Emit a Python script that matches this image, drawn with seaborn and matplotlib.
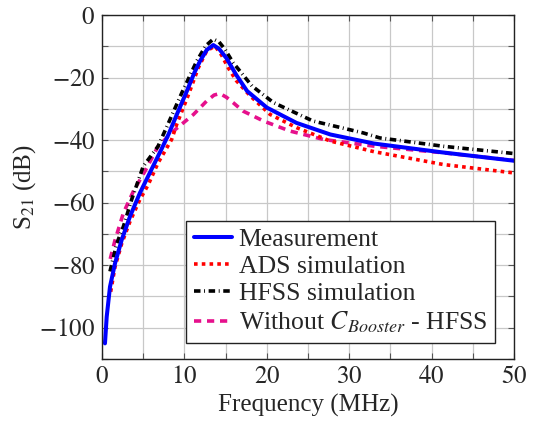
import numpy as np
import pandas as pd
import matplotlib
matplotlib.use("Agg")
import matplotlib.pyplot as plt
import seaborn as sns
from matplotlib.ticker import MultipleLocator

# ---- data ----
meas_f = [0.36, 0.57, 0.97, 1.58, 2.39, 3.4, 4.6, 6.0, 7.2, 8.1, 9.0, 10.3, 11.2, 11.9, 12.7, 13.5, 14.2, 15.1, 16.3, 17.6, 20.0, 23.6, 27.7, 33.0, 41.2, 50.0]
meas_db = [-105, -96.5, -86.9, -79.4, -71.9, -64.4, -56.9, -49.4, -43.0, -38.0, -32.3, -24.3, -18.5, -14.7, -11.2, -9.6, -10.8, -13.8, -19.2, -24.3, -29.6, -34.5, -38.2, -41.1, -43.9, -46.6]

ads_f = [1.05, 1.58, 2.4, 3.4, 4.6, 5.6, 6.8, 8.45, 9.06, 10.5, 11.7, 12.7, 13.7, 14.5, 15.3, 16.3, 18.0, 20.4, 23.6, 27.7, 33.0, 41.4, 50.0]
ads_db = [-88.5, -80.5, -73.0, -66.0, -59.0, -54.3, -47.3, -39.8, -35.0, -25.4, -16.8, -11.5, -9.9, -12.8, -16.8, -21.0, -25.9, -31.8, -36.0, -40.3, -43.7, -47.8, -50.5]

hfss_f = [0.97, 1.8, 2.6, 3.6, 5.0, 6.8, 7.9, 9.7, 11.5, 12.6, 13.5, 14.2, 14.9, 15.9, 18.2, 20.8, 25.6, 31.7, 33.7, 41.5, 50.0]
hfss_db = [-82.0, -73.0, -67.6, -59.0, -48.4, -42.0, -35.5, -24.8, -14.7, -9.8, -7.7, -8.6, -10.9, -15.2, -22.7, -28.0, -33.9, -37.7, -39.3, -42.0, -44.3]

noboost_f = [1.0, 1.58, 2.6, 3.8, 5.2, 6.8, 8.9, 11.1, 12.7, 13.6, 14.3, 15.1, 15.9, 17.1, 19.6, 22.8, 26.9, 33.2, 41.2, 50.0]
noboost_db = [-78.0, -72.0, -63.3, -56.4, -50.0, -42.0, -36.6, -31.8, -27.5, -25.6, -25.1, -26.3, -28.0, -30.7, -33.9, -37.1, -39.8, -42.0, -44.0, -46.5]

labels = ["Measurement", "ADS simulation", "HFSS simulation", r"Without $C_{Booster}$ - HFSS"]

x_ticks = [0, 10, 20, 30, 40, 50]
y_ticks = [0, -20, -40, -60, -80, -100]

frames = []
for lab, f, d in zip(labels, [meas_f, ads_f, hfss_f, noboost_f], [meas_db, ads_db, hfss_db, noboost_db]):
    frames.append(pd.DataFrame({"f": f, "db": d, "series": lab}))
df = pd.concat(frames, ignore_index=True)

sns.set_theme(style="white")
plt.rcParams["font.family"] = ["Liberation Serif", "DejaVu Serif"]
plt.rcParams["mathtext.fontset"] = "stix"

FS = 18

fig = plt.figure(figsize=(5.44, 4.23), dpi=100)
ax = fig.add_axes([0.1875, 0.1513, 0.7575, 0.8132])

lw = 2.6
styles = {
    labels[0]: dict(color="#0000ff", linestyle="-", linewidth=lw + 0.3),
    labels[1]: dict(color="#ff0000", linestyle=(0, (1.0, 1.15)), linewidth=lw),
    labels[2]: dict(color="#000000", linestyle=(0, (1.8, 1.0, 0.25, 1.0)), linewidth=lw),
    labels[3]: dict(color="#e6108c", linestyle=(0, (2.0, 1.6)), linewidth=lw),
}
order = [labels[3], labels[1], labels[2], labels[0]]
handles = {}
for lab in order:
    sub = df[df["series"] == lab]
    sns.lineplot(data=sub, x="f", y="db", ax=ax, label=lab, sort=False,
                 estimator=None, **styles[lab])
    handles[lab] = ax.get_lines()[-1]

ax.set_xlim(0, 50)
ax.set_ylim(-110, 0)
ax.set_xticks(x_ticks)
ax.set_xticklabels(["$%d$" % v for v in x_ticks])
ax.set_yticks(y_ticks)
ax.set_yticklabels(["$0$" if v == 0 else "$-%d$" % abs(v) for v in y_ticks])
ax.xaxis.set_minor_locator(MultipleLocator(5))
ax.yaxis.set_minor_locator(MultipleLocator(10))
ax.grid(True, which="both", color="#c8c8c8", linewidth=0.9)
ax.set_axisbelow(True)
ax.tick_params(which="both", direction="in", top=True, right=True, bottom=True, left=True,
               length=4, width=0.8, color="#555555", labelsize=FS)
ax.tick_params(axis="y", pad=5)
ax.tick_params(axis="x", pad=5)
for s in ax.spines.values():
    s.set_color("#222222")
    s.set_linewidth(1.0)

ax.set_xlabel("Frequency (MHz)", fontsize=FS, labelpad=4)
ax.set_ylabel(r"S$_{21}$ (dB)", fontsize=FS)
ax.yaxis.set_label_coords(-0.155, 0.5)

leg = ax.legend([handles[l] for l in labels], labels, loc="lower right",
                bbox_to_anchor=(0.954, 0.047), fontsize=18.5, frameon=True, fancybox=False,
                edgecolor="#222222", framealpha=1, handlelength=1.5, handletextpad=0.25,
                labelspacing=0.16, borderpad=0.3, borderaxespad=0)
leg.get_frame().set_linewidth(1.0)

fig.savefig("out.png", dpi=100)
